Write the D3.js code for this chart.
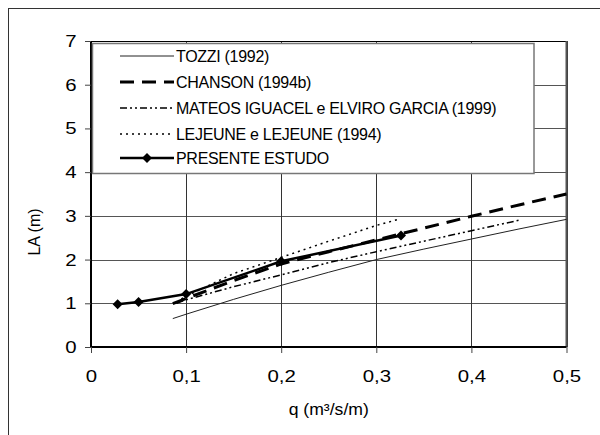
<!DOCTYPE html>
<html><head><meta charset="utf-8">
<script src="https://cdn.jsdelivr.net/npm/d3@7"></script>
<style>
html,body{margin:0;padding:0;background:#fff;}
text{font-family:"Liberation Sans",Arial,sans-serif;fill:#000;}
</style></head>
<body><svg id="c" width="600" height="435"></svg>
<script>
// ---- data ----
const xTicks = [0, 0.1, 0.2, 0.3, 0.4, 0.5];
const yTicks = [0, 1, 2, 3, 4, 5, 6, 7];
const seriesNames = ["TOZZI (1992)", "CHANSON (1994b)", "MATEOS IGUACEL e ELVIRO GARCIA (1999)", "LEJEUNE e LEJEUNE (1994)", "PRESENTE ESTUDO"];
const qTozzi = [0.086, 0.1, 0.15, 0.2, 0.25, 0.3, 0.35, 0.4, 0.45, 0.5];
const laTozzi = [0.65, 0.75, 1.09, 1.41, 1.71, 2.0, 2.24, 2.47, 2.70, 2.92];
const qChanson = [0.086, 0.1, 0.15, 0.2, 0.25, 0.3, 0.35, 0.4, 0.45, 0.5];
const laChanson = [0.99, 1.11, 1.52, 1.90, 2.18, 2.45, 2.72, 2.99, 3.25, 3.5];
const qMateos = [0.09, 0.1, 0.15, 0.2, 0.25, 0.3, 0.35, 0.4, 0.45];
const laMateos = [1.0, 1.08, 1.38, 1.65, 1.93, 2.18, 2.42, 2.66, 2.9];
const qLejeune = [0.095, 0.1, 0.15, 0.2, 0.25, 0.3, 0.325];
const laLejeune = [1.1, 1.16, 1.68, 2.05, 2.42, 2.78, 2.93];
const qPresente = [0.028, 0.05, 0.1, 0.2, 0.326];
const laPresente = [0.98, 1.03, 1.21, 1.96, 2.55];

const styles = [
  {w:1, dash:null, color:"#222"},
  {w:3, dash:"14,8", color:"#000"},
  {w:1.5, dash:"7,3,2,3,2,3", color:"#000"},
  {w:1.5, dash:"2,4", color:"#000"},
  {w:2.5, dash:null, color:"#000", marker:true}
];
const seriesData = [
  [qTozzi, laTozzi], [qChanson, laChanson], [qMateos, laMateos], [qLejeune, laLejeune], [qPresente, laPresente]
];

const svg = d3.select("#c");
const x = d3.scaleLinear().domain([0, 0.5]).range([91, 566.5]);
const y = d3.scaleLinear().domain([0, 7]).range([347, 41]);
const fmt = d => String(d).replace(".", ",");

// outer chart border
svg.append("rect").attr("x", 8.5).attr("y", 8.5).attr("width", 700).attr("height", 600)
  .attr("fill", "none").attr("stroke", "#333").attr("stroke-width", 1);

// gridlines
svg.append("g").selectAll("line").data(yTicks.slice(1)).join("line")
  .attr("x1", x(0)).attr("x2", x(0.5)).attr("y1", d => Math.round(y(d)) + 0.5).attr("y2", d => Math.round(y(d)) + 0.5)
  .attr("stroke", "#555").attr("stroke-width", 1);
svg.append("g").selectAll("line").data(xTicks.slice(1)).join("line")
  .attr("x1", d => Math.round(x(d)) + 0.5).attr("x2", d => Math.round(x(d)) + 0.5).attr("y1", y(0)).attr("y2", y(7))
  .attr("stroke", "#333").attr("stroke-width", 1);
// plot border top/right
svg.append("line").attr("x1", x(0)).attr("x2", x(0.5)).attr("y1", Math.round(y(7)) + 0.5).attr("y2", Math.round(y(7)) + 0.5).attr("stroke", "#000");
svg.append("line").attr("x1", x(0.5)).attr("x2", x(0.5)).attr("y1", y(7)).attr("y2", y(0)).attr("stroke", "#555").attr("stroke-width", 2);

// axes
const xAxis = svg.append("g").attr("transform", `translate(0,${y(0)})`)
  .call(d3.axisBottom(x).tickValues(xTicks).tickFormat(fmt).tickSize(6).tickPadding(17));
const yAxis = svg.append("g").attr("transform", `translate(${x(0)},0)`)
  .call(d3.axisLeft(y).tickValues(yTicks).tickFormat(d3.format("d")).tickSize(6).tickPadding(9));
[xAxis, yAxis].forEach(g => {
  g.select(".domain").attr("stroke", "#000").attr("stroke-width", 2);
  g.selectAll(".tick line").attr("stroke", "#444");
  g.selectAll(".tick text").attr("font-size", 17).attr("font-family", '"Liberation Sans",Arial,sans-serif').attr("fill", "#000");
});
xAxis.select(".domain").attr("d", `M${x(0)},0H${x(0.5)}`);
yAxis.select(".domain").attr("d", `M0,${y(0)}V${y(7)}`);
xAxis.selectAll(".tick text").attr("transform", "scale(1.2,1)");
yAxis.selectAll(".tick text").attr("transform", "scale(1.2,1)").attr("x", -12);

// axis titles
const xc = (x(0) + x(0.5)) / 2;
svg.append("text").attr("x", xc).attr("y", 415).attr("text-anchor", "middle")
  .attr("font-size", 16).attr("transform", `translate(${xc},0) scale(1.1,1) translate(${-xc},0)`).text("q (m³/s/m)");
svg.append("text").attr("transform", "translate(40,232) rotate(-90)").attr("text-anchor", "middle")
  .attr("font-size", 16).text("LA (m)");

// legend
const lg = svg.append("g");
lg.append("rect").attr("x", 92.5).attr("y", 43.5).attr("width", 441.5).attr("height", 130)
  .attr("fill", "#fff").attr("stroke", "#777").attr("stroke-width", 1.5);
const rowsY = [56, 82, 108, 134, 158];
seriesNames.forEach((name, i) => {
  const st = styles[i];
  lg.append("line").attr("x1", 120).attr("x2", 174).attr("y1", rowsY[i]).attr("y2", rowsY[i])
    .attr("stroke", st.color).attr("stroke-width", st.w).attr("stroke-dasharray", st.dash);
  if (st.marker) {
    lg.append("path").attr("d", d3.symbol(d3.symbolSquare, 50)())
      .attr("transform", `translate(147,${rowsY[i]}) rotate(45)`).attr("fill", "#000");
  }
  lg.append("text").attr("x", 176).attr("y", rowsY[i]).attr("dy", "0.36em")
    .attr("font-size", 16).attr("letter-spacing", -0.3).text(name);
});

// series
const line = d3.line().x(d => x(d[0])).y(d => y(d[1]));
seriesData.forEach(([qs, las], i) => {
  const st = styles[i];
  const pts = qs.map((q, j) => [q, las[j]]);
  svg.append("path").attr("d", line(pts)).attr("fill", "none")
    .attr("stroke", st.color).attr("stroke-width", st.w).attr("stroke-dasharray", st.dash);
  if (st.marker) {
    svg.append("g").selectAll("path").data(pts).join("path")
      .attr("d", d3.symbol(d3.symbolSquare, 50)())
      .attr("transform", d => `translate(${x(d[0])},${y(d[1])}) rotate(45)`).attr("fill", "#000");
  }
});
</script></body></html>
